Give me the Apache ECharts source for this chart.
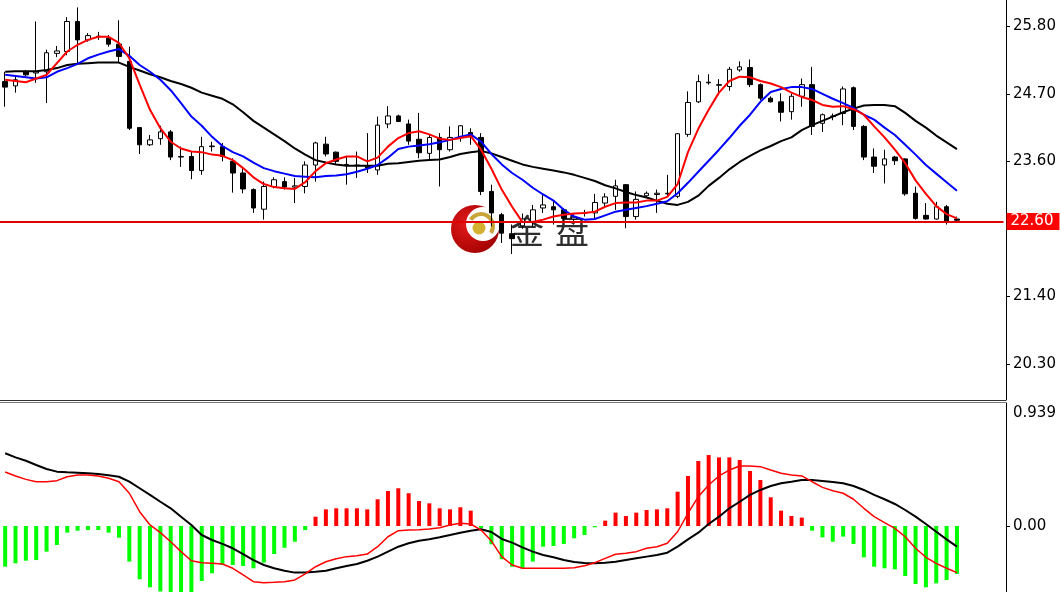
<!DOCTYPE html>
<html><head><meta charset="utf-8">
<script src="https://cdn.jsdelivr.net/npm/echarts@6/dist/echarts.min.js"></script>
<style>html,body{margin:0;padding:0;background:#fff}#c{width:1060px;height:592px}</style>
</head><body><div id="c"></div>
<script>
// ---- data ----
const opens = [24.90,24.83,25.06,25.04,25.06,25.36,25.39,25.88,25.58,25.63,
25.61,25.51,25.23,24.15,23.87,23.97,24.08,23.67,23.68,23.45,
23.84,23.84,23.60,23.41,23.14,22.82,23.19,23.27,23.18,23.19,
23.54,23.88,23.75,23.53,23.53,23.52,23.46,24.21,24.34,24.21,
23.96,23.73,23.99,23.79,23.99,24.07,23.99,23.11,22.73,22.42,
22.55,22.62,22.84,22.86,22.81,22.66,22.75,22.76,22.92,23.03,
23.22,22.70,23.04,23.06,23.07,23.03,24.04,24.57,24.88,24.84,
24.82,25.09,25.13,24.85,24.63,24.57,24.41,24.66,24.85,24.22,
24.33,24.38,24.80,24.17,23.67,23.54,23.67,23.64,23.08,22.72,
22.66,22.86,22.66];
const closes = [24.81,24.93,25.01,25.06,25.37,25.40,25.88,25.58,25.65,25.64,
25.51,25.31,24.14,23.87,23.95,24.08,23.67,23.68,23.45,23.84,
23.85,23.68,23.41,23.15,22.84,23.19,23.30,23.18,23.20,23.54,
23.90,23.72,23.60,23.55,23.54,23.49,24.19,24.34,24.25,23.93,
23.74,23.99,23.79,23.99,24.18,24.00,23.11,22.76,22.43,22.34,
22.66,22.81,22.89,22.81,22.67,22.69,22.76,22.93,23.02,23.20,
22.70,22.98,23.08,23.08,23.08,24.05,24.56,24.90,24.89,24.85,
25.10,25.14,24.85,24.63,24.57,24.40,24.66,24.85,24.17,24.36,
24.34,24.78,24.17,23.67,23.52,23.64,23.61,23.07,22.67,22.66,
22.86,22.62,22.64];
const lows = [24.49,24.72,24.98,24.88,24.55,25.30,25.33,25.20,25.55,25.58,
25.47,25.20,24.11,23.72,23.85,23.87,23.62,23.51,23.31,23.38,
23.76,23.60,23.09,23.08,22.76,22.65,23.16,23.14,22.92,23.08,
23.27,23.68,23.54,23.22,23.33,23.41,23.38,24.14,24.24,23.87,
23.65,23.62,23.19,23.76,23.92,23.87,23.05,22.54,22.27,22.09,
22.50,22.54,22.76,22.57,22.61,22.60,22.70,22.67,22.84,22.81,
22.51,22.65,23.02,22.76,23.03,23.00,24.00,24.55,24.85,24.68,
24.75,25.06,24.81,24.60,24.56,24.25,24.28,24.49,24.03,24.08,
24.27,24.19,24.11,23.62,23.41,23.24,23.54,23.04,22.65,22.65,
22.65,22.57,22.62];
const highs = [25.06,24.98,25.09,25.88,25.42,25.48,25.95,26.11,25.69,25.71,
25.66,25.90,25.47,24.16,24.03,24.18,24.11,23.84,23.76,24.00,
23.92,23.90,23.65,23.51,23.16,23.27,23.34,23.34,23.33,23.60,
23.92,24.00,23.76,23.68,23.76,24.06,24.33,24.50,24.36,24.28,
24.39,24.03,24.06,24.17,24.19,24.14,24.06,23.22,22.76,22.57,
22.75,22.89,23.05,22.95,22.84,22.74,22.81,23.07,23.08,23.30,
23.23,23.11,23.11,23.14,23.38,24.06,24.74,25.01,25.02,24.94,
25.14,25.23,25.26,24.87,24.66,24.71,24.71,24.95,25.14,24.38,
24.38,24.82,24.82,24.19,23.81,23.79,23.69,23.65,23.19,22.92,
22.94,22.89,22.70];
const maFast = [24.93,24.91,24.89,24.95,25.01,25.20,25.39,25.50,25.58,25.63,
25.63,25.53,25.28,24.85,24.44,24.14,23.92,23.81,23.76,23.75,
23.71,23.69,23.62,23.49,23.34,23.23,23.18,23.16,23.15,23.26,
23.44,23.57,23.63,23.68,23.68,23.60,23.66,23.84,23.98,24.06,
24.09,24.04,23.97,23.95,23.98,24.01,23.79,23.48,23.14,22.86,
22.61,22.61,22.65,22.70,22.73,22.75,22.76,22.78,22.86,22.92,
22.93,22.93,22.96,22.96,23.02,23.23,23.75,24.13,24.44,24.72,
24.91,24.98,24.97,24.91,24.87,24.81,24.72,24.65,24.60,24.52,
24.49,24.50,24.45,24.36,24.17,23.99,23.79,23.57,23.29,23.07,
22.87,22.74,22.67];
const maMid = [25.01,24.99,24.97,24.95,24.97,25.06,25.12,25.19,25.28,25.34,
25.39,25.43,25.32,25.17,25.06,24.93,24.76,24.55,24.33,24.18,
24.00,23.85,23.75,23.68,23.58,23.49,23.44,23.40,23.36,23.35,
23.34,23.36,23.37,23.39,23.43,23.48,23.54,23.66,23.80,23.84,
23.86,23.88,23.91,23.95,24.00,24.04,23.92,23.72,23.55,23.41,
23.30,23.17,23.06,22.96,22.81,22.70,22.65,22.66,22.72,22.78,
22.81,22.84,22.87,22.91,22.95,23.08,23.25,23.43,23.61,23.79,
23.98,24.18,24.36,24.57,24.73,24.78,24.81,24.81,24.78,24.70,
24.62,24.55,24.47,24.36,24.28,24.15,24.03,23.87,23.71,23.54,
23.40,23.26,23.12];
const maSlow = [25.06,25.07,25.07,25.07,25.09,25.12,25.17,25.19,25.20,25.21,
25.21,25.21,25.14,25.08,25.02,24.97,24.91,24.86,24.80,24.72,
24.67,24.62,24.53,24.40,24.26,24.15,24.04,23.93,23.81,23.71,
23.62,23.58,23.55,23.53,23.53,23.53,23.53,23.56,23.57,23.59,
23.61,23.62,23.63,23.67,23.72,23.75,23.77,23.73,23.67,23.61,
23.55,23.51,23.48,23.45,23.42,23.38,23.33,23.28,23.21,23.16,
23.10,23.05,23.01,22.96,22.91,22.89,22.94,23.04,23.20,23.33,
23.47,23.59,23.69,23.78,23.85,23.93,23.99,24.11,24.19,24.26,
24.33,24.40,24.46,24.51,24.52,24.52,24.50,24.39,24.26,24.15,
24.02,23.91,23.80];
const macdHist = [-0.311,-0.285,-0.265,-0.260,-0.196,-0.145,-0.051,-0.036,-0.031,-0.031,
-0.051,-0.089,-0.272,-0.407,-0.468,-0.50,-0.53,-0.55,-0.55,-0.420,
-0.361,-0.298,-0.298,-0.305,-0.323,-0.280,-0.214,-0.166,-0.120,-0.031,
0.071,0.127,0.135,0.135,0.135,0.127,0.204,0.267,0.288,0.250,
0.191,0.173,0.135,0.127,0.143,0.117,-0.015,-0.14,-0.254,-0.311,
-0.323,-0.272,-0.158,-0.153,-0.137,-0.094,-0.069,-0.010,0.041,0.102,
0.076,0.102,0.122,0.127,0.135,0.262,0.382,0.496,0.542,0.524,
0.524,0.504,0.420,0.351,0.219,0.117,0.076,0.064,-0.036,-0.087,
-0.120,-0.081,-0.137,-0.239,-0.311,-0.323,-0.331,-0.382,-0.443,-0.468,
-0.438,-0.412,-0.366];
const macdDif = [0.412,0.382,0.356,0.338,0.338,0.346,0.376,0.389,0.389,0.382,
0.364,0.338,0.250,0.109,0.008,-0.051,-0.120,-0.196,-0.265,-0.280,
-0.285,-0.290,-0.323,-0.374,-0.425,-0.433,-0.430,-0.425,-0.412,-0.366,
-0.311,-0.273,-0.250,-0.234,-0.227,-0.214,-0.158,-0.082,-0.036,-0.031,
-0.028,-0.023,-0.013,0.008,0.021,0.015,-0.031,-0.115,-0.234,-0.298,
-0.323,-0.323,-0.323,-0.323,-0.323,-0.318,-0.303,-0.280,-0.247,-0.216,
-0.208,-0.196,-0.170,-0.158,-0.132,-0.044,0.097,0.224,0.313,0.382,
0.427,0.458,0.458,0.453,0.427,0.402,0.389,0.382,0.338,0.295,
0.269,0.250,0.204,0.135,0.071,0.025,-0.018,-0.082,-0.170,-0.239,
-0.285,-0.323,-0.356];
const macdDea = [0.555,0.524,0.498,0.466,0.435,0.415,0.410,0.407,0.402,0.397,
0.387,0.376,0.338,0.288,0.237,0.185,0.135,0.071,0.008,-0.069,
-0.107,-0.137,-0.170,-0.214,-0.260,-0.298,-0.323,-0.341,-0.356,-0.356,
-0.349,-0.341,-0.323,-0.305,-0.290,-0.265,-0.234,-0.196,-0.158,-0.132,
-0.112,-0.102,-0.086,-0.069,-0.051,-0.036,-0.025,-0.046,-0.099,-0.127,
-0.163,-0.196,-0.221,-0.239,-0.260,-0.275,-0.282,-0.285,-0.280,-0.273,
-0.260,-0.247,-0.234,-0.221,-0.204,-0.158,-0.102,-0.051,0.015,0.071,
0.135,0.185,0.237,0.275,0.305,0.326,0.338,0.351,0.351,0.344,
0.336,0.326,0.305,0.275,0.237,0.204,0.168,0.122,0.071,0.015,
-0.044,-0.102,-0.158];
const priceTickValues = [20.30,21.40,22.50,23.60,24.70,25.80];
const priceLabelValues = [20.30,21.40,23.60,24.70,25.80];
const macdLabelValues = [0, 0.939];
const currentPrice = 22.62;
const currentPriceLabel = '22.60';
const slotCount = 97; // bar slots incl. right-hand empty shift
// ---------------------------------------

const cats = Array.from({length: slotCount}, (_, i) => String(i));
const ohlc = opens.map((o, i) => [o, closes[i], lows[i], highs[i]]);
const FONT = 'DejaVu Sans';

const chart = echarts.init(document.getElementById('c'), null, {renderer: 'canvas'});
chart.setOption({
  animation: false,
  backgroundColor: '#ffffff',
  grid: [
    {left: -0.5, right: 56.5, top: 0, height: 400},
    {left: -0.5, right: 56.5, top: 403, height: 189}
  ],
  xAxis: [
    {type: 'category', gridIndex: 0, data: cats, boundaryGap: true,
     axisLine: {show: false}, axisTick: {show: false}, axisLabel: {show: false}, splitLine: {show: false}},
    {type: 'category', gridIndex: 1, data: cats, boundaryGap: true,
     axisLine: {show: false}, axisTick: {show: false}, axisLabel: {show: false}, splitLine: {show: false}}
  ],
  yAxis: [
    {type: 'value', gridIndex: 0, position: 'right', offset: 2.5, min: 19.71, max: 26.23,
     splitLine: {show: false},
     axisLine: {show: true, onZero: false, lineStyle: {color: '#000', width: 1}},
     axisTick: {show: true, length: 4, customValues: priceTickValues, lineStyle: {color: '#000'}},
     axisLabel: {customValues: priceLabelValues, formatter: v => v.toFixed(2), color: '#000',
                 fontFamily: FONT, fontSize: 15, margin: 7}},
    {type: 'value', gridIndex: 1, position: 'right', offset: 2.5, min: -0.504, max: 0.939,
     splitLine: {show: false},
     axisLine: {show: true, onZero: false, lineStyle: {color: '#000', width: 1}},
     axisTick: {show: true, length: 4, customValues: [0], lineStyle: {color: '#000'}},
     axisLabel: {customValues: macdLabelValues, color: '#000', fontFamily: FONT, fontSize: 15, margin: 7,
                 formatter: v => v === 0 ? '0.00' : '{t|' + v.toFixed(3) + '}',
                 rich: {t: {padding: [20, 0, 0, 0], fontFamily: FONT, fontSize: 15, color: '#000'}}}}
  ],
  graphic: [
    {type: 'line', shape: {x1: 0, y1: 400.5, x2: 1006, y2: 400.5}, style: {stroke: '#333', lineWidth: 1}},
    {type: 'line', shape: {x1: 0, y1: 402.5, x2: 1006, y2: 402.5}, style: {stroke: '#777', lineWidth: 1}},
    // watermark logo
    {type: 'circle', shape: {cx: 475, cy: 229, r: 24},
     style: {fill: new echarts.graphic.RadialGradient(0.35, 0.4, 0.7, [{offset: 0, color: '#e51a1a'}, {offset: 1, color: '#a00000'}])}},
    {type: 'circle', shape: {cx: 483, cy: 224, r: 17}, style: {fill: '#ffffff'}},
    {type: 'arc', shape: {cx: 481, cy: 226, r: 12, startAngle: -2.6, endAngle: 0.6, clockwise: true},
     style: {stroke: '#c9a43a', lineWidth: 4, fill: null}},
    {type: 'circle', shape: {cx: 479, cy: 228, r: 6.5}, style: {fill: '#d4b030'}},
    {type: 'text', style: {text: '金', x: 527, y: 231, fill: '#2e2e2e', font: '34px "Noto Sans CJK SC"', align: 'center', verticalAlign: 'middle'}},
    {type: 'text', style: {text: '盘', x: 572, y: 231, fill: '#2e2e2e', font: '34px "Noto Sans CJK SC"', align: 'center', verticalAlign: 'middle'}}
  ],
  series: [
    {type: 'candlestick', xAxisIndex: 0, yAxisIndex: 0, data: ohlc, barWidth: 5,
     itemStyle: {color: '#ffffff', color0: '#000000', borderColor: '#000000', borderColor0: '#000000', borderWidth: 1},
     markLine: {silent: true, symbol: 'none', animation: false,
       data: [{yAxis: currentPrice}],
       lineStyle: {color: '#e00000', width: 2, type: 'solid'},
       label: {show: true, position: 'end', distance: 3, formatter: () => currentPriceLabel,
               backgroundColor: '#ff0000', color: '#ffffff', fontFamily: FONT, fontSize: 15, padding: [1, 6, 1, 4]}}},
    {type: 'line', xAxisIndex: 0, yAxisIndex: 0, data: maSlow, showSymbol: false, lineStyle: {color: '#000000', width: 2}},
    {type: 'line', xAxisIndex: 0, yAxisIndex: 0, data: maMid, showSymbol: false, lineStyle: {color: '#0000ff', width: 2}},
    {type: 'line', xAxisIndex: 0, yAxisIndex: 0, data: maFast, showSymbol: false, lineStyle: {color: '#ff0000', width: 2}},
    {type: 'bar', xAxisIndex: 1, yAxisIndex: 1, data: macdHist, barWidth: 4,
     itemStyle: {color: p => p.value >= 0 ? '#ff0000' : '#00ff00'}},
    {type: 'line', xAxisIndex: 1, yAxisIndex: 1, data: macdDea, showSymbol: false, lineStyle: {color: '#000000', width: 2}},
    {type: 'line', xAxisIndex: 1, yAxisIndex: 1, data: macdDif, showSymbol: false, lineStyle: {color: '#ff0000', width: 1.5}}
  ]
});
</script>
</body></html>
